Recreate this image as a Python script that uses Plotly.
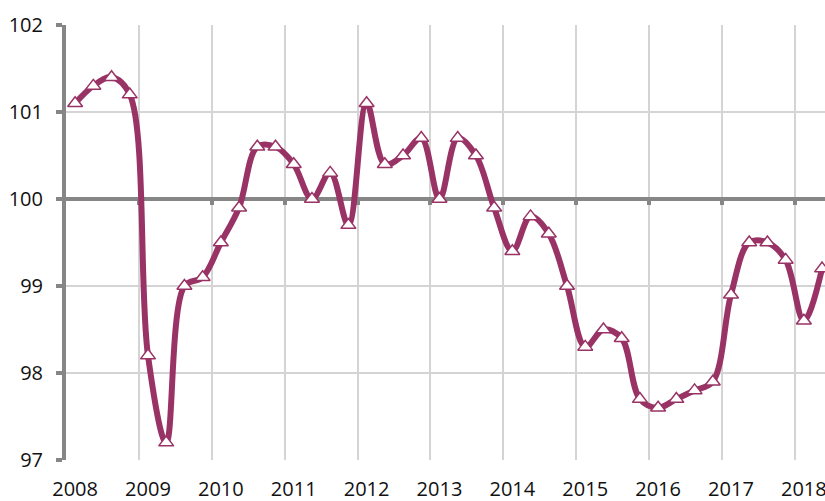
import plotly.graph_objects as go

years = ["2008", "2009", "2010", "2011", "2012", "2013", "2014", "2015", "2016", "2017", "2018"]
quarters_per_year = 4
values = [
    101.1, 101.3, 101.4, 101.2,   # 2008
    98.2, 97.2, 99.0, 99.1,       # 2009
    99.5, 99.9, 100.6, 100.6,     # 2010
    100.4, 100.0, 100.3, 99.7,    # 2011
    101.1, 100.4, 100.5, 100.7,   # 2012
    100.0, 100.7, 100.5, 99.9,    # 2013
    99.4, 99.8, 99.6, 99.0,       # 2014
    98.3, 98.5, 98.4, 97.7,       # 2015
    97.6, 97.7, 97.8, 97.9,       # 2016
    98.9, 99.5, 99.5, 99.3,       # 2017
    98.6, 99.2,                   # 2018
]
y_ticks = [97, 98, 99, 100, 101, 102]
ref_level = 100

LINE = "#993366"
GRID = "#d4d4d4"
AXIS = "#868686"
FONT = "Open Sans"

idx = list(range(len(values)))
label_pos = [i * quarters_per_year for i in range(len(years))]
year_bounds = [i * quarters_per_year - 0.5 for i in range(1, len(years))]
x_range = [-0.5, 41.16]
y_range = [min(y_ticks), max(y_ticks)]

fig = go.Figure()
fig.add_trace(go.Scatter(
    x=idx, y=values, mode="lines+markers",
    line=dict(color=LINE, width=6, shape="spline", smoothing=1.0),
    marker=dict(symbol="triangle-up", size=13, color="white",
                line=dict(color=LINE, width=1.5)),
    cliponaxis=False, showlegend=False, hoverinfo="skip",
))
# helper trace to attach the reference-level axis
fig.add_trace(go.Scatter(x=[x_range[0]], y=[ref_level], xaxis="x2", mode="markers",
                         marker=dict(opacity=0), showlegend=False, hoverinfo="skip"))

frac = (ref_level - y_range[0]) / (y_range[1] - y_range[0])

fig.update_layout(
    width=825, height=501,
    margin=dict(l=66, r=0, t=25, b=41),
    paper_bgcolor="white", plot_bgcolor="white",
    font=dict(family=FONT, size=20, color="#111111"),
    xaxis=dict(
        range=x_range, tickvals=label_pos, ticktext=years,
        showgrid=False, zeroline=False, showline=False,
        ticks="outside", ticklen=11, tickcolor="rgba(0,0,0,0)",
        tickfont=dict(family=FONT, size=20, color="#111111"),
        automargin=False, ticklabeloverflow="allow",
    ),
    xaxis2=dict(
        overlaying="x", anchor="free", position=frac, side="bottom",
        range=x_range, tickvals=year_bounds, showticklabels=False,
        showgrid=True, gridcolor=GRID, gridwidth=1.5,
        showline=True, linecolor=AXIS, linewidth=4,
        ticks="outside", ticklen=4, tickwidth=4, tickcolor=AXIS,
        zeroline=False, layer="below traces", automargin=False,
    ),
    yaxis=dict(
        range=y_range, tickvals=y_ticks,
        showgrid=True, gridcolor=GRID, gridwidth=1.5,
        zeroline=False, showline=True, linecolor=AXIS, linewidth=4,
        ticks="outside", ticklen=6, tickwidth=4, tickcolor=AXIS,
        ticklabelstandoff=9, automargin=False,
        tickfont=dict(family=FONT, size=20, color="#111111"),
    ),
)

fig.write_html(
    "out.html",
    config={"displayModeBar": False},
    post_script="document.body.style.margin='0';document.body.style.overflow='hidden';",
)
